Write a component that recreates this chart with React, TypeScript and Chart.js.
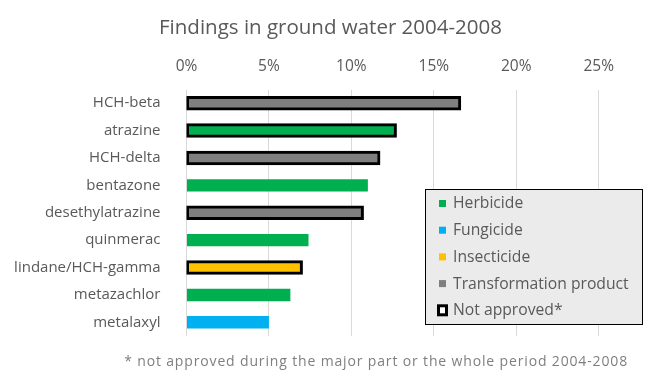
import React, { useEffect, useRef } from "react";
import { Chart, registerables } from "chart.js";

Chart.register(...registerables);

const TITLE = "Findings in ground water 2004-2008";
const FOOTNOTE = "* not approved during the major part or the whole period 2004-2008";

const categories = [
  "HCH-beta",
  "atrazine",
  "HCH-delta",
  "bentazone",
  "desethylatrazine",
  "quinmerac",
  "lindane/HCH-gamma",
  "metazachlor",
  "metalaxyl",
];
const values = [16.6, 12.7, 11.7, 11.0, 10.7, 7.4, 7.0, 6.3, 5.0];
const types = [
  "Transformation product",
  "Herbicide",
  "Transformation product",
  "Herbicide",
  "Transformation product",
  "Herbicide",
  "Insecticide",
  "Herbicide",
  "Fungicide",
];
const notApproved = [true, true, true, false, true, false, true, false, false];

const typeLabels = ["Herbicide", "Fungicide", "Insecticide", "Transformation product"];
const typeColors = ["#00b050", "#00b0f0", "#ffc000", "#7f7f7f"];
const notApprovedLabel = "Not approved*";
const xTicks = [0, 5, 10, 15, 20, 25];

const FONT = "'Open Sans', sans-serif";
const TEXT = "#595959";

const colorOf = (t: string) => typeColors[typeLabels.indexOf(t)];

const overlayPlugin = {
  id: "overlay",
  afterDraw(chart: any) {
    const ctx = chart.ctx;
    ctx.save();
    // legend box
    const bx = 425.5, by = 189.5, bw = 217, bh = 135;
    ctx.fillStyle = "#ebebeb";
    ctx.fillRect(bx, by, bw, bh);
    ctx.strokeStyle = "#000000";
    ctx.lineWidth = 1;
    ctx.strokeRect(bx, by, bw, bh);
    ctx.font = `15.7px ${FONT}`;
    ctx.textBaseline = "middle";
    ctx.textAlign = "left";
    const rowH = 26.7;
    const y0 = 203.5;
    typeLabels.forEach((lab, i) => {
      const cy = y0 + i * rowH;
      ctx.fillStyle = typeColors[i];
      ctx.fillRect(439, cy - 3.5, 7, 7);
      ctx.fillStyle = TEXT;
      ctx.fillText(lab, 453, cy + 0.5);
    });
    const cy = y0 + 4 * rowH;
    ctx.fillStyle = "#ffffff";
    ctx.fillRect(438.5, cy - 4.5, 8, 9);
    ctx.lineWidth = 3;
    ctx.strokeStyle = "#000000";
    ctx.strokeRect(438.5, cy - 4.5, 8, 9);
    ctx.fillStyle = TEXT;
    ctx.fillText(notApprovedLabel, 453, cy + 0.5);
    // footnote
    ctx.font = `14px ${FONT}`;
    try {
      (ctx as any).letterSpacing = "0.85px";
    } catch (e) {}
    ctx.fillStyle = "#7f7f7f";
    ctx.textAlign = "right";
    ctx.textBaseline = "alphabetic";
    ctx.fillText(FOOTNOTE, 628, 366);
    ctx.restore();
  },
};

export default function App() {
  const ref = useRef<HTMLCanvasElement | null>(null);
  useEffect(() => {
    if (!ref.current) return;
    const chart = new Chart(ref.current, {
      type: "bar",
      data: {
        labels: categories,
        datasets: [
          {
            data: values,
            backgroundColor: types.map(colorOf),
            borderColor: "#000000",
            borderWidth: notApproved.map((n) => (n ? 3 : 0)),
            borderSkipped: false,
            inflateAmount: (c: any) => (notApproved[c.dataIndex] ? 1 : 0),
            barPercentage: 0.455,
            categoryPercentage: 1,
          } as any,
        ],
      },
      plugins: [overlayPlugin],
      options: {
        indexAxis: "y",
        responsive: false,
        animation: false,
        layout: { padding: { left: 0, right: 0, top: 0, bottom: 43 } },
        plugins: {
          legend: { display: false },
          tooltip: { enabled: false },
          title: {
            display: true,
            text: TITLE,
            color: TEXT,
            font: { family: FONT, size: 20.5, weight: "normal" },
            padding: { top: 16, bottom: 0 },
          },
        },
        scales: {
          x: {
            position: "top",
            min: 0,
            max: 25,
            afterBuildTicks: (s: any) => {
              s.ticks = xTicks.map((v) => ({ value: v }));
            },
            afterFit: (s: any) => {
              s.height = 89.5 - 16 - 20.5 * 1.2;
              s.paddingRight = 62.3;
              s.paddingLeft = 0;
            },
            ticks: {
              color: TEXT,
              font: { family: FONT, size: 15.5 },
              padding: 14,
              maxRotation: 0,
              callback: (v: any) => `${v}%`,
            },
            grid: { color: "#d9d9d9", drawTicks: false, lineWidth: 1 },
            border: { display: false },
          },
          y: {
            afterFit: (s: any) => {
              s.width = 186.5;
            },
            ticks: {
              color: TEXT,
              font: { family: FONT, size: 15 },
              padding: 18,
            },
            grid: { display: false },
            border: { display: false },
          },
        },
      } as any,
    });
    return () => chart.destroy();
  }, []);
  return (
    <div style={{ position: "fixed", left: 0, top: 0, width: 661, height: 379, background: "#fff" }}>
      <canvas ref={ref} width={661} height={379} />
    </div>
  );
}
